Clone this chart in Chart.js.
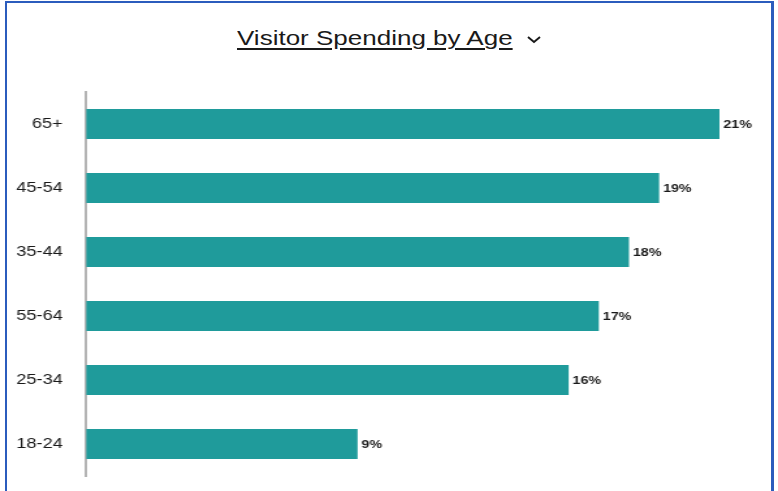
<!DOCTYPE html>
<html>
<head>
<meta charset="utf-8">
<script src="https://cdn.jsdelivr.net/npm/chart.js@4"></script>
<style>
  html, body { margin: 0; padding: 0; background: #fff; }
  body { width: 778px; height: 491px; position: relative; overflow: hidden; font-family: "Liberation Sans", Arial, sans-serif; }
  #frame { position: absolute; left: 5px; top: 1px; width: 764px; height: 500px;
           border-left: 2px solid #2b5cbd; border-top: 2px solid #2b5cbd; border-right: 3px solid #2b5cbd; }
  #title { position: absolute; left: 237px; top: 26px; line-height: 24px; white-space: nowrap; color: #1a1a1a; font-size: 20px;
           transform: scaleX(1.3); transform-origin: 0 0; }
  #title span { text-decoration: underline; text-underline-offset: 3px; text-decoration-thickness: 1.5px; }
  #chev { position: absolute; left: 526px; top: 34px; }
  #wrap { position: absolute; left: 0; top: 0; width: 598px; height: 491px; transform: scaleX(1.301); transform-origin: 0 0; }
  #c { display: block; }
</style>
</head>
<body>
<div id="frame"></div>
<div id="title"><span>Visitor Spending by Age</span></div>
<svg id="chev" width="16" height="10" viewBox="0 0 16 10"><polyline points="2,3 8,8 14,3" fill="none" stroke="#1a1a1a" stroke-width="2"/></svg>
<div id="wrap"><canvas id="c" width="598" height="491" style="width:598px;height:491px"></canvas></div>
<script>
const categories = ["65+", "45-54", "35-44", "55-64", "25-34", "18-24"];
const spendingShare = [21, 19, 18, 17, 16, 9];

const barLabels = {
  id: 'barLabels',
  afterDatasetsDraw(chart) {
    const ctx = chart.ctx;
    const meta = chart.getDatasetMeta(0);
    ctx.save();
    ctx.font = 'bold 11px "Liberation Sans", Arial, sans-serif';
    ctx.fillStyle = '#1a1a1a';
    ctx.textBaseline = 'middle';
    ctx.textAlign = 'left';
    meta.data.forEach((bar, i) => {
      ctx.fillText(spendingShare[i] + '%', bar.x + 3, bar.y + 1);
    });
    ctx.restore();
  }
};

new Chart(document.getElementById('c'), {
  type: 'bar',
  data: {
    labels: categories,
    datasets: [{
      data: spendingShare,
      backgroundColor: '#1f9b9b',
      categoryPercentage: 1,
      barPercentage: 0.47
    }]
  },
  options: {
    indexAxis: 'y',
    responsive: false,
    maintainAspectRatio: false,
    animation: false,
    devicePixelRatio: 1,
    layout: { padding: { top: 92, bottom: 15, right: 45, left: 0 } },
    plugins: { legend: { display: false }, tooltip: { enabled: false } },
    scales: {
      x: { display: false, min: 0, max: 21 },
      y: {
        afterFit(scale) { scale.width = 66.2; scale.paddingTop = 0; scale.paddingBottom = 0; },
        grid: { display: true, color: 'rgba(0,0,0,0)', drawTicks: false },
        border: { display: true, color: '#b4b4b4', width: 2 },
        ticks: { color: '#1a1a1a', padding: 18, font: { family: '"Liberation Sans", Arial, sans-serif', size: 14 } }
      }
    }
  },
  plugins: [barLabels]
});
</script>
</body>
</html>
